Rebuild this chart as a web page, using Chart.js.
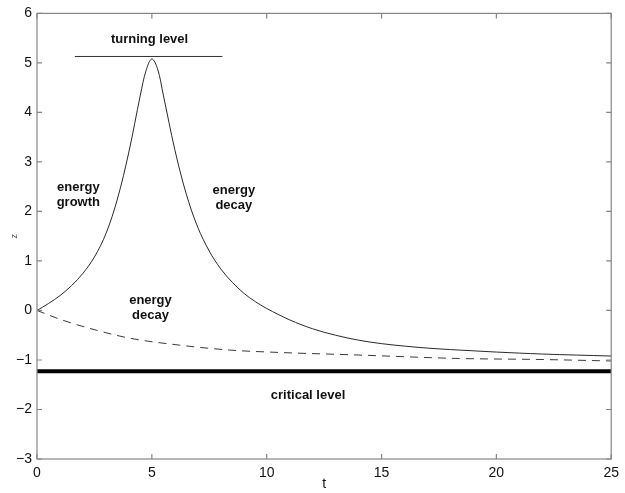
<!DOCTYPE html>
<html>
<head>
<meta charset="utf-8">
<script src="https://cdn.jsdelivr.net/npm/chart.js@4.4.1/dist/chart.umd.min.js"></script>
<style>
  body { margin: 0; background: #fff; }
  canvas { display: block; }
</style>
</head>
<body>
<canvas id="chart" width="625" height="493"></canvas>
<script>
// Solid curve (energy growth then decay)
const tSolid = [0, 0.5, 1, 1.5, 2, 2.5, 3, 3.5, 4, 4.5, 4.75, 5, 5.25, 5.5, 6, 6.5, 7, 7.5, 8, 8.5, 9, 9.5, 10, 11, 12, 13, 14, 15, 16, 17, 18, 19, 20, 22, 25];
const zSolid = [0, 0.14, 0.3, 0.5, 0.75, 1.08, 1.55, 2.25, 3.2, 4.35, 4.85, 5.08, 4.88, 4.35, 3.25, 2.35, 1.68, 1.2, 0.84, 0.57, 0.35, 0.18, 0.04, -0.19, -0.37, -0.5, -0.6, -0.67, -0.72, -0.76, -0.79, -0.815, -0.84, -0.88, -0.92];

// Dashed curve (energy decay)
const tDashed = [0, 1.14, 2.6, 4.04, 6.2, 8.4, 10.1, 14, 18.4, 21.9, 25];
const zDashed = [0, -0.2, -0.4, -0.56, -0.7, -0.8, -0.84, -0.9, -0.97, -0.99, -1.02];

// Horizontal levels
const criticalLevel = -1.23;
const turningLevel = 5.13;
const turningSpan = [1.65, 8.07];

const xTicks = [0, 5, 10, 15, 20, 25];
const yTicks = [-3, -2, -1, 0, 1, 2, 3, 4, 5, 6];

const toPoints = (xs, ys) => xs.map((x, i) => ({ x: x, y: ys[i] }));

// Text notes, placed in data units
const notes = [
    { text: ['turning level'], t: 4.9, z: 5.48 },
    { text: ['energy', 'growth'], t: 1.8, z: 2.49 },
    { text: ['energy', 'decay'], t: 8.57, z: 2.42 },
    { text: ['energy', 'decay'], t: 4.94, z: 0.2 },
    { text: ['critical level'], t: 11.8, z: -1.71 }
];

const axisColor = '#858585';
const fontFamily = '"Liberation Sans", Arial, sans-serif';

// Draw the frame, inward ticks on all four sides, and the notes
const framePlugin = {
    id: 'frame',
    afterDatasetsDraw(chart) {
        const ctx = chart.ctx;
        const a = chart.chartArea;
        const xs = chart.scales.x;
        const ys = chart.scales.y;
        ctx.save();
        ctx.strokeStyle = axisColor;
        ctx.lineWidth = 1.2;
        ctx.strokeRect(a.left, a.top, a.right - a.left, a.bottom - a.top);
        ctx.beginPath();
        xTicks.forEach((v) => {
            const px = xs.getPixelForValue(v);
            ctx.moveTo(px, a.bottom); ctx.lineTo(px, a.bottom - 5);
            ctx.moveTo(px, a.top); ctx.lineTo(px, a.top + 5);
        });
        yTicks.forEach((v) => {
            const py = ys.getPixelForValue(v);
            ctx.moveTo(a.left, py); ctx.lineTo(a.left + 5, py);
            ctx.moveTo(a.right, py); ctx.lineTo(a.right - 5, py);
        });
        ctx.stroke();

        ctx.fillStyle = '#111';
        ctx.font = 'bold 13px ' + fontFamily;
        ctx.textAlign = 'center';
        ctx.textBaseline = 'middle';
        notes.forEach((n) => {
            const px = xs.getPixelForValue(n.t);
            const py = ys.getPixelForValue(n.z);
            n.text.forEach((line, i) => ctx.fillText(line, px, py + i * 15));
        });
        ctx.restore();
    }
};

new Chart(document.getElementById('chart'), {
    type: 'line',
    data: {
        datasets: [
            {
                data: toPoints(tSolid, zSolid),
                borderColor: '#2a2a2a',
                borderWidth: 1,
                tension: 0.35
            },
            {
                data: toPoints(tDashed, zDashed),
                borderColor: '#3a3a3a',
                borderWidth: 1,
                borderDash: [8, 6],
                cubicInterpolationMode: 'monotone'
            },
            {
                data: toPoints([0, 25], [criticalLevel, criticalLevel]),
                borderColor: '#000',
                borderWidth: 4
            },
            {
                data: toPoints(turningSpan, [turningLevel, turningLevel]),
                borderColor: '#333',
                borderWidth: 1
            }
        ]
    },
    options: {
        responsive: false,
        animation: false,
        layout: { padding: { top: 7, right: 13, left: 0, bottom: 0 } },
        elements: { point: { radius: 0 } },
        plugins: {
            legend: { display: false },
            tooltip: { enabled: false }
        },
        scales: {
            x: {
                type: 'linear',
                min: 0,
                max: 25,
                afterFit: (scale) => { scale.height = 34; },
                afterBuildTicks: (scale) => { scale.ticks = xTicks.map((v) => ({ value: v })); },
                grid: { display: false, drawTicks: false },
                border: { display: false },
                ticks: {
                    padding: 6,
                    color: '#111',
                    font: { family: fontFamily, size: 14 }
                },
                title: {
                    display: true,
                    text: 't',
                    color: '#111',
                    padding: { top: 0, bottom: 0 },
                    font: { family: fontFamily, size: 14 }
                }
            },
            y: {
                type: 'linear',
                min: -3,
                max: 6,
                afterFit: (scale) => { scale.width = 37; },
                afterBuildTicks: (scale) => { scale.ticks = yTicks.map((v) => ({ value: v })); },
                grid: { display: false, drawTicks: false },
                border: { display: false },
                ticks: {
                    padding: 5,
                    color: '#111',
                    font: { family: fontFamily, size: 14 },
                    callback: (v) => String(v).replace('-', '\u2212')
                },
                title: {
                    display: true,
                    text: 'z',
                    color: '#555',
                    padding: { top: 9, bottom: 0 },
                    font: { family: fontFamily, size: 9 }
                }
            }
        }
    },
    plugins: [framePlugin]
});
</script>
</body>
</html>
